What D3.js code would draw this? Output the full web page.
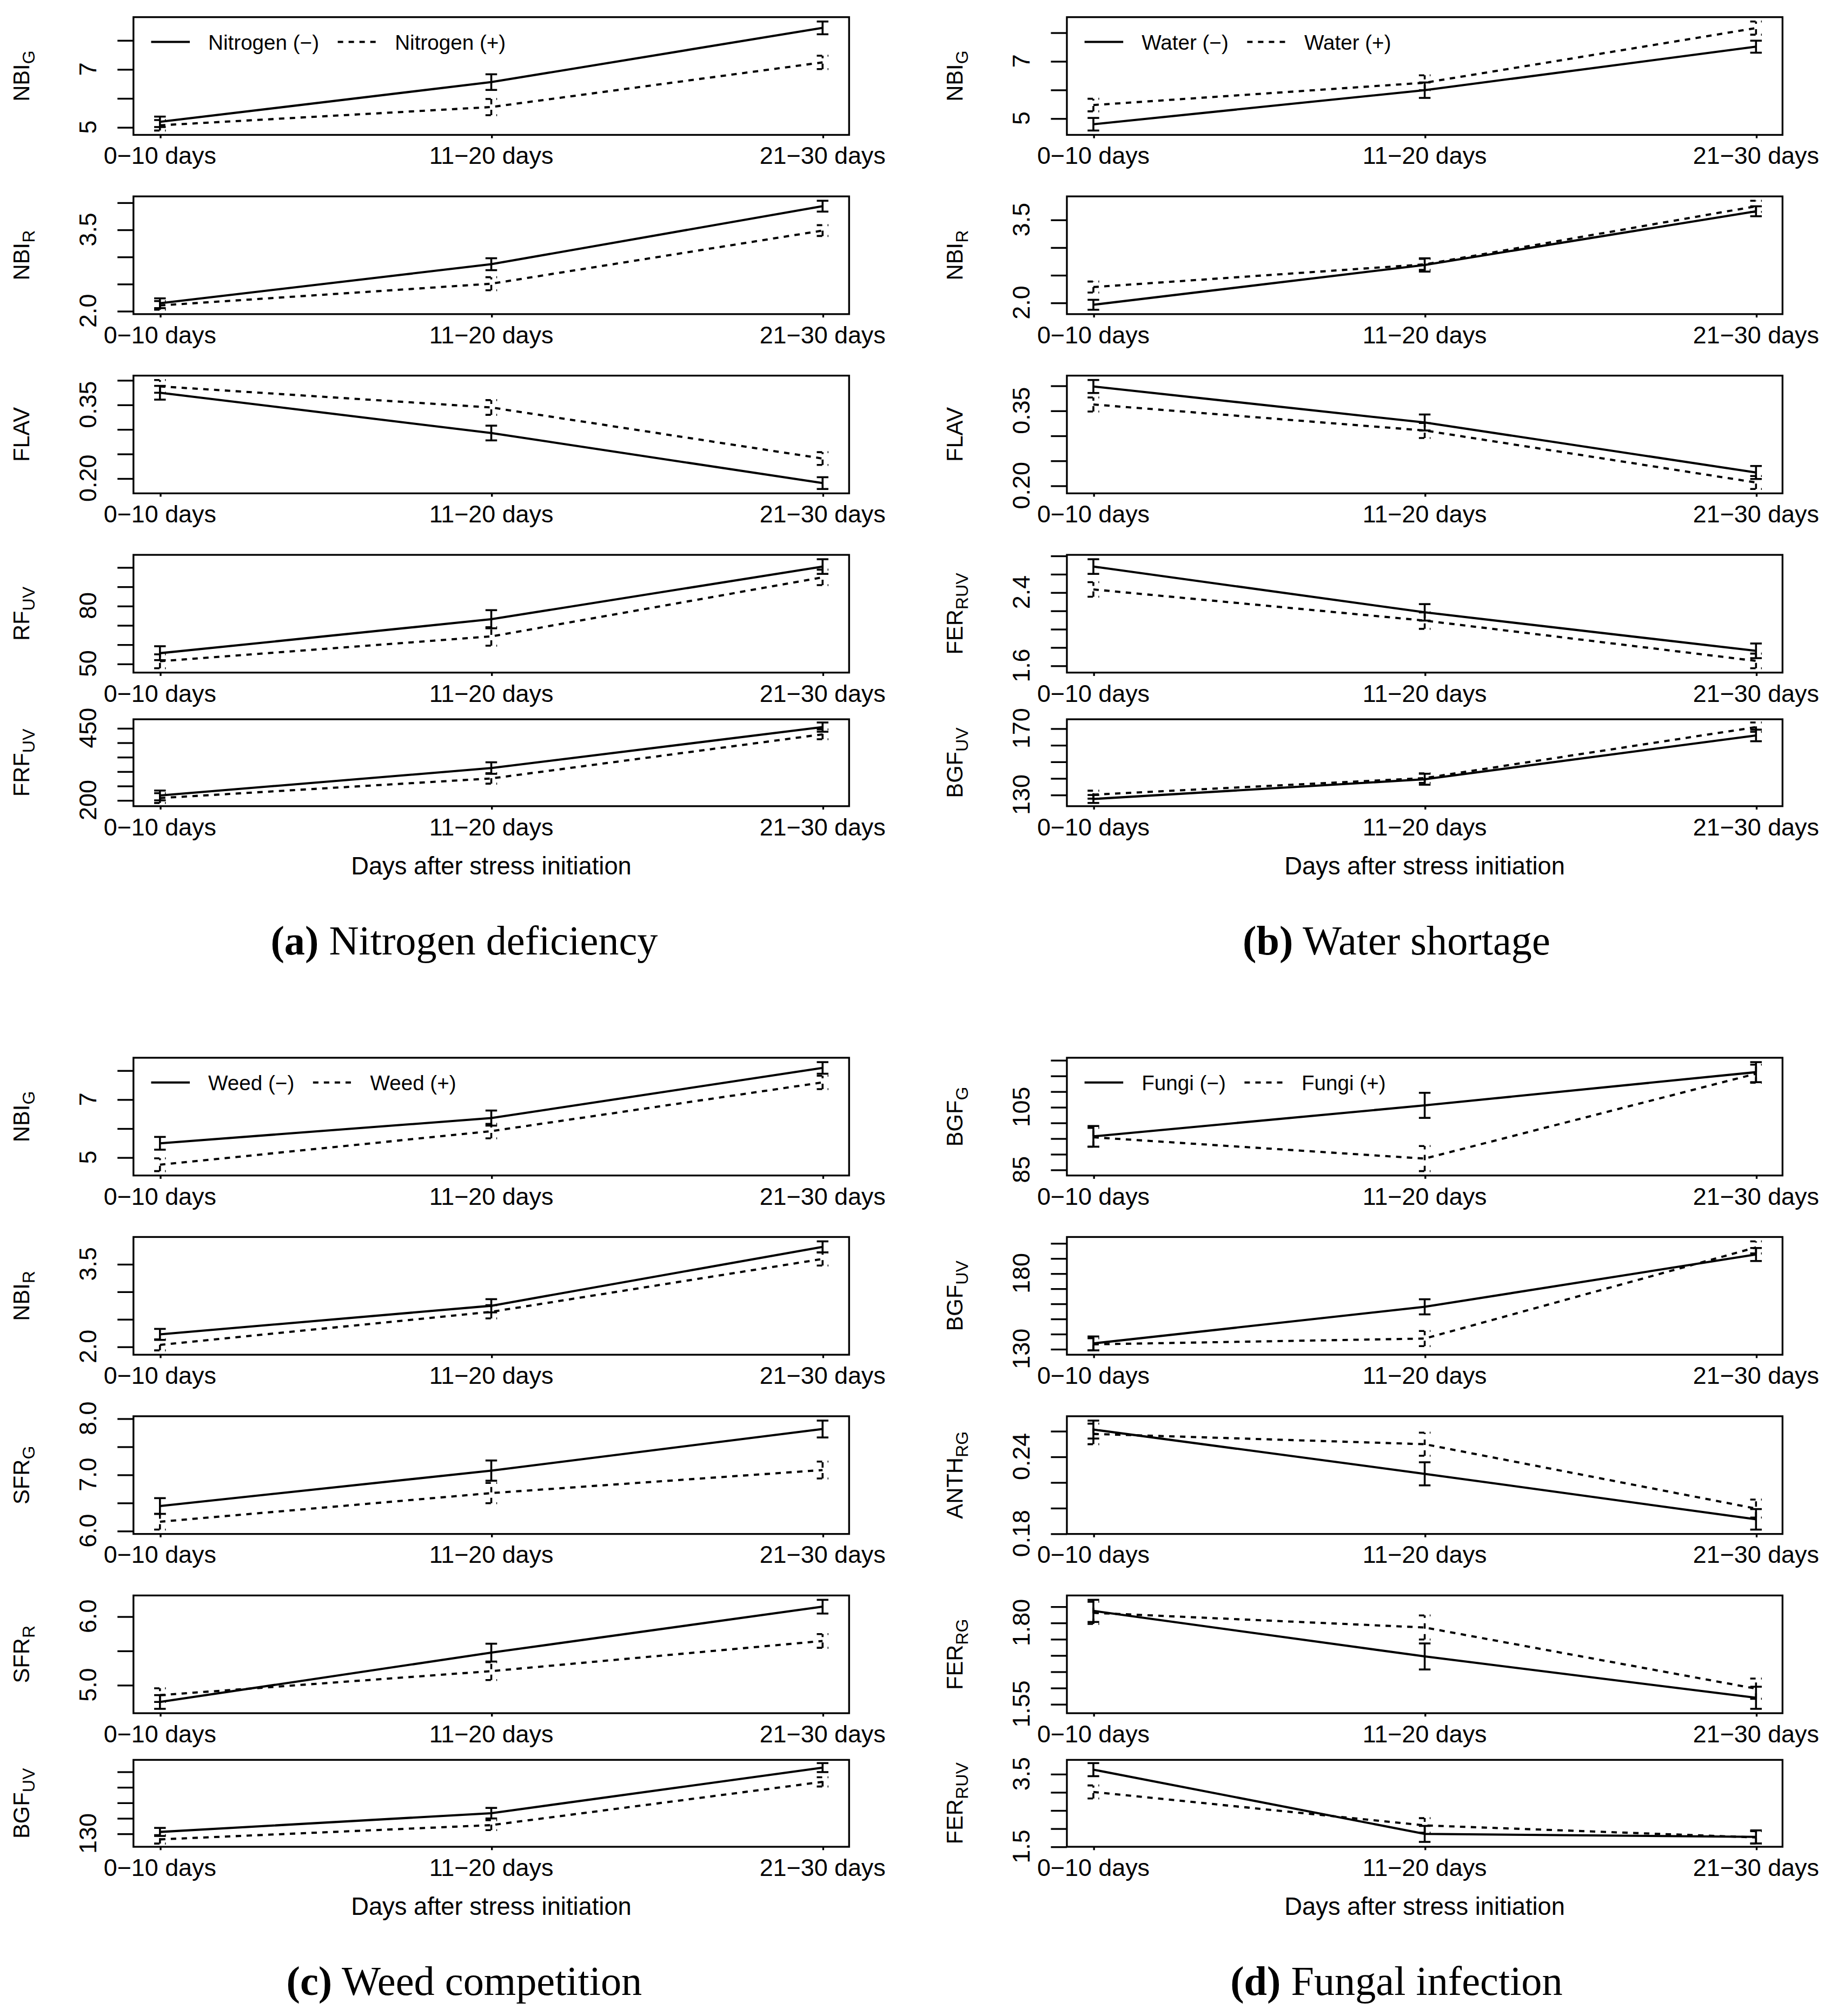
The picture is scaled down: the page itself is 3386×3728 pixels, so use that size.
<!DOCTYPE html>
<html>
<head>
<meta charset="utf-8">
<script src="https://cdn.jsdelivr.net/npm/d3@7.9.0/dist/d3.min.js"></script>
<style>
  html, body { margin: 0; padding: 0; background: #fff; }
  svg { display: block; }
  text { font-family: "Liberation Sans", Arial, Helvetica, sans-serif; fill: #000; }
  .caption text, text.caption { font-family: "Liberation Serif", "DejaVu Serif", serif; }
</style>
</head>
<body>
<svg id="chart"></svg>
<script>
// ---- data ----
const categories = ['0\u221210 days', '11\u221220 days', '21\u221230 days'];
const xTitle = 'Days after stress initiation';

// (a) nitrogen deficiency
const nitrogenLegend = ['Nitrogen (\u2212)', 'Nitrogen (+)'];
const nitrogenTitles = [['NBI', 'G'], ['NBI', 'R'], ['FLAV', ''], ['RF', 'UV'], ['FRF', 'UV']];
const nitrogenMinus = [[5.18, 6.55, 8.42], [2.14, 2.86, 3.93], [0.374, 0.292, 0.19], [55.4, 73.0, 100.3], [216, 311, 453]];
const nitrogenMinusErr = [[0.18, 0.27, 0.22], [0.09, 0.11, 0.1], [0.014, 0.015, 0.012], [3.6, 4.7, 3.8], [17, 20, 16]];
const nitrogenPlus = [[5.06, 5.69, 7.23], [2.10, 2.50, 3.48], [0.387, 0.344, 0.24], [51.2, 64.1, 94.7], [207, 275, 428]];
const nitrogenPlusErr = [[0.18, 0.28, 0.23], [0.08, 0.12, 0.1], [0.013, 0.015, 0.013], [3.6, 4.8, 4.0], [17, 18, 17]];
const nitrogenTicks = [[5, 6, 7, 8], [2, 2.5, 3, 3.5, 4], [0.2, 0.25, 0.3, 0.35, 0.4], [50, 60, 70, 80, 90, 100], [200, 250, 300, 350, 400, 450]];
const nitrogenTickLabels = [['5', '7'], ['2.0', '3.5'], ['0.20', '0.35'], ['50', '80'], ['200', '450']];

// (b) water shortage
const waterLegend = ['Water (\u2212)', 'Water (+)'];
const waterTitles = [['NBI', 'G'], ['NBI', 'R'], ['FLAV', ''], ['FER', 'RUV'], ['BGF', 'UV']];
const waterMinus = [[4.79, 5.98, 7.50], [1.96, 2.68, 3.65], [0.398, 0.326, 0.226], [2.68, 2.18, 1.76], [127.4, 139.3, 165.7]];
const waterMinusErr = [[0.22, 0.27, 0.21], [0.09, 0.12, 0.09], [0.013, 0.016, 0.013], [0.08, 0.09, 0.08], [2.4, 3.3, 3.5]];
const waterPlus = [[5.46, 6.24, 8.15], [2.28, 2.69, 3.74], [0.362, 0.31, 0.206], [2.43, 2.09, 1.65], [130, 140, 170.7]];
const waterPlusErr = [[0.22, 0.26, 0.23], [0.1, 0.1, 0.1], [0.014, 0.015, 0.013], [0.08, 0.09, 0.08], [2.4, 2.9, 2.8]];
const waterTicks = [[5, 6, 7, 8], [2, 2.5, 3, 3.5], [0.2, 0.25, 0.3, 0.35, 0.4], [1.6, 1.8, 2.0, 2.2, 2.4, 2.6, 2.8], [130, 140, 150, 160, 170]];
const waterTickLabels = [['5', '7'], ['2.0', '3.5'], ['0.20', '0.35'], ['1.6', '2.4'], ['130', '170']];

// (c) weed competition
const weedLegend = ['Weed (\u2212)', 'Weed (+)'];
const weedTitles = [['NBI', 'G'], ['NBI', 'R'], ['SFR', 'G'], ['SFR', 'R'], ['BGF', 'UV']];
const weedMinus = [[5.48, 6.35, 8.08], [2.22, 2.74, 3.81], [6.44, 7.07, 7.81], [4.75, 5.47, 6.14], [131.0, 143.1, 172.5]];
const weedMinusErr = [[0.22, 0.26, 0.2], [0.1, 0.12, 0.1], [0.14, 0.18, 0.15], [0.1, 0.13, 0.1], [2.6, 3.4, 2.9]];
const weedPlus = [[4.74, 5.90, 7.58], [2.03, 2.63, 3.59], [6.16, 6.67, 7.08], [4.85, 5.20, 5.64], [126.2, 135.4, 163.3]];
const weedPlusErr = [[0.22, 0.25, 0.23], [0.1, 0.12, 0.12], [0.14, 0.18, 0.15], [0.1, 0.13, 0.1], [2.7, 3.2, 3.0]];
const weedTicks = [[5, 6, 7, 8], [2, 2.5, 3, 3.5], [6, 6.5, 7, 7.5, 8], [5, 5.5, 6], [130, 140, 150, 160, 170]];
const weedTickLabels = [['5', '7'], ['2.0', '3.5'], ['6.0', '7.0', '8.0'], ['5.0', '6.0'], ['130']];

// (d) fungal infection
const fungiLegend = ['Fungi (\u2212)', 'Fungi (+)'];
const fungiTitles = [['BGF', 'G'], ['BGF', 'UV'], ['ANTH', 'RG'], ['FER', 'RG'], ['FER', 'RUV']];
const fungiMinus = [[95.6, 105.5, 116.1], [133.6, 157.8, 192.4], [0.261, 0.2265, 0.191], [1.836, 1.696, 1.569], [3.615, 1.846, 1.763]];
const fungiMinusErr = [[3.3, 4.0, 3.2], [4.6, 5.0, 4.3], [0.007, 0.009, 0.008], [0.034, 0.04, 0.034], [0.18, 0.22, 0.18]];
const fungiPlus = [[95.3, 88.5, 115.6], [133.0, 136.8, 197.1], [0.2576, 0.2496, 0.1994], [1.83, 1.785, 1.597], [3.0, 2.08, 1.75]];
const fungiPlusErr = [[3.0, 4.0, 2.9], [4.0, 5.0, 4.0], [0.008, 0.009, 0.007], [0.034, 0.037, 0.031], [0.18, 0.2, 0.17]];
const fungiTicks = [[85, 90, 95, 100, 105, 110, 115, 120], [130, 140, 150, 160, 170, 180, 190, 200], [0.18, 0.2, 0.22, 0.24, 0.26], [1.55, 1.6, 1.65, 1.7, 1.75, 1.8, 1.85], [1.5, 2, 2.5, 3, 3.5]];
const fungiTickLabels = [['85', '105'], ['130', '180'], ['0.18', '0.24'], ['1.55', '1.80'], ['1.5', '3.5']];

const captions = [['(a)', 'Nitrogen deficiency'], ['(b)', 'Water shortage'], ['(c)', 'Weed competition'], ['(d)', 'Fungal infection']];

const figures = [
  { legend: nitrogenLegend, titles: nitrogenTitles, minus: nitrogenMinus, minusErr: nitrogenMinusErr, plus: nitrogenPlus, plusErr: nitrogenPlusErr, ticks: nitrogenTicks, tickLabels: nitrogenTickLabels },
  { legend: waterLegend, titles: waterTitles, minus: waterMinus, minusErr: waterMinusErr, plus: waterPlus, plusErr: waterPlusErr, ticks: waterTicks, tickLabels: waterTickLabels },
  { legend: weedLegend, titles: weedTitles, minus: weedMinus, minusErr: weedMinusErr, plus: weedPlus, plusErr: weedPlusErr, ticks: weedTicks, tickLabels: weedTickLabels },
  { legend: fungiLegend, titles: fungiTitles, minus: fungiMinus, minusErr: fungiMinusErr, plus: fungiPlus, plusErr: fungiPlusErr, ticks: fungiTicks, tickLabels: fungiTickLabels }
];

// ---- layout (in units of the downscaled page, 1420 wide) ----
const W = 3386, H = 3728;
const K = W / 1420;
const colX = [103.5, 827.4];
const colW = 555;
const rowTop = [13.3, 152.3, 291.3, 430.3, 557.8];
const rowH = [91.3, 91.3, 91.3, 91.3, 67.4];
const halfOffset = [0, 807];
const captionX = [360, 1083];
const dashes = '4.2,4.2';

const svg = d3.select('#chart')
  .attr('width', W)
  .attr('height', H)
  .attr('viewBox', `0 0 1420 ${H / K}`);

svg.append('rect').attr('width', 1420).attr('height', H / K).attr('fill', '#fff');

figures.forEach((fig, fi) => {
  const x0 = colX[fi % 2];
  const yOff = halfOffset[Math.floor(fi / 2)];
  const x = d3.scalePoint().domain(categories).range([x0, x0 + colW]).padding(0.08);

  fig.minus.forEach((_, pi) => {
    const top = rowTop[pi] + yOff;
    const h = rowH[pi];
    const series = [
      { vals: fig.minus[pi], err: fig.minusErr[pi], dash: null },
      { vals: fig.plus[pi], err: fig.plusErr[pi], dash: dashes }
    ];
    const lo = d3.min(series.flatMap(s => s.vals.map((v, i) => v - s.err[i])));
    const hi = d3.max(series.flatMap(s => s.vals.map((v, i) => v + s.err[i])));
    const pad = (hi - lo) * 0.04;
    const y = d3.scaleLinear().domain([lo - pad, hi + pad]).range([top + h, top]);

    const g = svg.append('g');

    // y ticks
    const ya = g.append('g')
      .attr('transform', `translate(${x0},0)`)
      .call(d3.axisLeft(y).tickValues(fig.ticks[pi]).tickSize(12.4).tickSizeOuter(0).tickFormat(''));
    ya.select('.domain').remove();
    ya.selectAll('line').attr('stroke-width', 1.4);

    // x ticks
    const xa = g.append('g')
      .attr('transform', `translate(0,${top + h})`)
      .call(d3.axisBottom(x).tickSize(2.6).tickSizeOuter(0).tickFormat(''));
    xa.select('.domain').remove();
    xa.selectAll('line').attr('stroke-width', 1.4);

    // y tick labels (rotated, like R's default)
    g.selectAll('.ylab')
      .data(fig.tickLabels[pi])
      .enter()
      .append('text')
      .attr('class', 'ylab')
      .attr('transform', d => `translate(${x0 - 28.9},${y(+d)}) rotate(-90)`)
      .attr('text-anchor', 'middle')
      .attr('font-size', 18.8)
      .text(d => d);

    // x tick labels
    g.selectAll('.xlab')
      .data(categories)
      .enter()
      .append('text')
      .attr('class', 'xlab')
      .attr('x', d => x(d))
      .attr('y', top + h + 22.6)
      .attr('text-anchor', 'middle')
      .attr('font-size', 18.8)
      .text(d => d);

    // y title with subscript
    const [main, sub] = fig.titles[pi];
    const t = g.append('text')
      .attr('transform', `translate(${x0 - 81},${top + h / 2}) rotate(-90)`)
      .attr('text-anchor', 'middle')
      .attr('font-size', 17.5);
    t.append('tspan').text(main);
    if (sub) t.append('tspan').attr('font-size', 13.5).attr('dy', 4.3).text(sub);

    // series
    const line = d3.line().x((d, i) => x(categories[i])).y(d => y(d));
    series.forEach(s => {
      g.append('path')
        .attr('d', line(s.vals))
        .attr('fill', 'none')
        .attr('stroke', '#000')
        .attr('stroke-width', 1.7)
        .attr('stroke-dasharray', s.dash);

      const bars = g.selectAll(null)
        .data(s.vals.map((v, i) => ({ c: categories[i], v, e: s.err[i] })))
        .enter()
        .append('g')
        .attr('stroke', '#000')
        .attr('stroke-width', 1.5)
        .attr('stroke-dasharray', s.dash);
      bars.append('line')
        .attr('x1', d => x(d.c)).attr('x2', d => x(d.c))
        .attr('y1', d => y(d.v - d.e)).attr('y2', d => y(d.v + d.e));
      bars.append('line')
        .attr('x1', d => x(d.c) - 4.5).attr('x2', d => x(d.c) + 4.5)
        .attr('y1', d => y(d.v + d.e)).attr('y2', d => y(d.v + d.e));
      bars.append('line')
        .attr('x1', d => x(d.c) - 4.5).attr('x2', d => x(d.c) + 4.5)
        .attr('y1', d => y(d.v - d.e)).attr('y2', d => y(d.v - d.e));
    });

    // frame
    g.append('rect')
      .attr('x', x0).attr('y', top)
      .attr('width', colW).attr('height', h)
      .attr('fill', 'none')
      .attr('stroke', '#000')
      .attr('stroke-width', 1.4);

    // legend on the first panel
    if (pi === 0) {
      let lx = x0 + 13.7;
      fig.legend.forEach((label, li) => {
        g.append('line')
          .attr('x1', lx).attr('x2', lx + 30)
          .attr('y1', top + 19.2).attr('y2', top + 19.2)
          .attr('stroke', '#000')
          .attr('stroke-width', 1.7)
          .attr('stroke-dasharray', li === 1 ? dashes : null);
        const lt = g.append('text')
          .attr('x', lx + 44.3)
          .attr('y', top + 25.1)
          .attr('font-size', 16.2)
          .text(label);
        lx = lx + 44.3 + lt.node().getComputedTextLength() + 14.5;
      });
    }
  });

  // x axis title
  const last = rowTop.length - 1;
  svg.append('text')
    .attr('x', x0 + colW / 2)
    .attr('y', rowTop[last] + rowH[last] + yOff + 53)
    .attr('text-anchor', 'middle')
    .attr('font-size', 19)
    .text(xTitle);

  // sub-figure caption
  const cap = svg.append('text')
    .attr('class', 'caption')
    .attr('x', captionX[fi % 2])
    .attr('y', 740 + yOff)
    .attr('text-anchor', 'middle')
    .attr('font-size', 32);
  cap.append('tspan').attr('font-weight', 'bold').text(captions[fi][0]);
  cap.append('tspan').text(' ' + captions[fi][1]);
});
</script>
</body>
</html>
